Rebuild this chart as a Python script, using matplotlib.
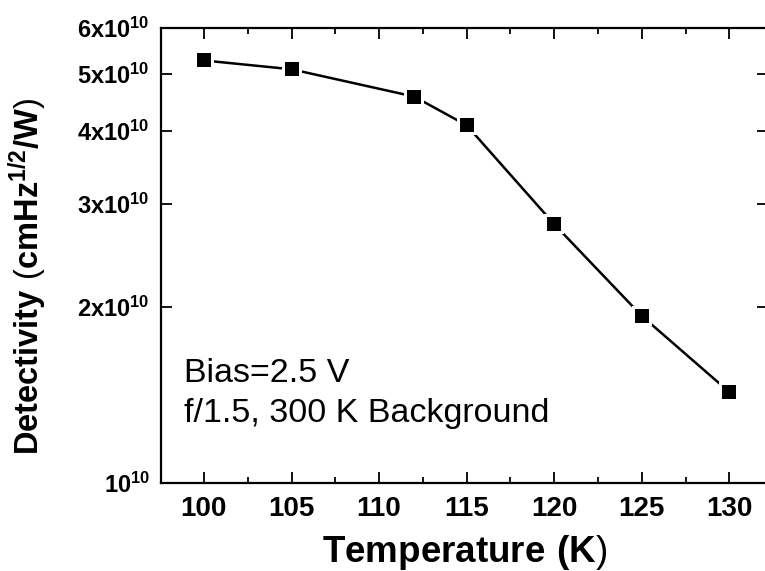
import matplotlib

matplotlib.use("Agg")

import matplotlib.pyplot as plt
from matplotlib.ticker import FixedLocator, MultipleLocator, NullLocator

plt.rcParams["font.family"] = ["Liberation Sans", "DejaVu Sans"]
plt.rcParams["mathtext.fontset"] = "custom"
plt.rcParams["mathtext.rm"] = "Liberation Sans"
plt.rcParams["mathtext.bf"] = "Liberation Sans:bold"

temperature = [100, 105, 112, 115, 120, 125, 130]
detectivity = [5.28e10, 5.10e10, 4.58e10, 4.09e10, 2.77e10, 1.93e10, 1.43e10]

y_ticks = [1e10, 2e10, 3e10, 4e10, 5e10, 6e10]
y_tick_labels = [
    r"$\mathbf{10^{10}}$",
    r"$\mathbf{2x10^{10}}$",
    r"$\mathbf{3x10^{10}}$",
    r"$\mathbf{4x10^{10}}$",
    r"$\mathbf{5x10^{10}}$",
    r"$\mathbf{6x10^{10}}$",
]
x_ticks = [100, 105, 110, 115, 120, 125, 130]

W, H = 765, 571
fig = plt.figure(figsize=(W / 100, H / 100), dpi=100)
left, right, top, bottom = 161, 768, 28, 483
ax = fig.add_axes([left / W, 1 - bottom / H, (right - left) / W, (bottom - top) / H])

# line, then white squares to leave a gap, then the black markers
ax.plot(temperature, detectivity, color="black", linewidth=1.8, zorder=2)
ax.plot(temperature, detectivity, linestyle="none", marker="s", markersize=15,
        markerfacecolor="white", markeredgewidth=0, zorder=3)
ax.plot(temperature, detectivity, linestyle="none", marker="s", markersize=10,
        markerfacecolor="black", markeredgewidth=0, zorder=4)

ax.set_yscale("log")
ax.set_ylim(1e10, 6e10)
ax.yaxis.set_major_locator(FixedLocator(y_ticks))
ax.yaxis.set_minor_locator(NullLocator())
ax.set_yticklabels(y_tick_labels, fontsize=17)

ax.set_xlim(97.55, 132.2)
ax.xaxis.set_major_locator(FixedLocator(x_ticks))
ax.xaxis.set_minor_locator(MultipleLocator(2.5))
ax.set_xticklabels([str(t) for t in x_ticks], fontsize=20, fontweight="bold")

ax.tick_params(which="both", direction="in", top=True, right=True, width=1.3)
ax.tick_params(which="major", length=8)
ax.tick_params(axis="x", which="major", pad=9)
ax.tick_params(axis="y", which="major", pad=8)
ax.tick_params(which="minor", length=4)
for spine in ax.spines.values():
    spine.set_linewidth(1.6)

fig.text(465 / W, 1 - 562 / H,
         r"$\mathbf{Temperature\ (K}\mathrm{)}$", fontsize=26.5,
         ha="center", va="baseline")
fig.text(28 / W, 1 - 276 / H,
         r"$\mathbf{Detectivity}\ \mathrm{(}\mathbf{cmHz^{1/2}/W}\mathrm{)}$",
         fontsize=23.5, rotation=90, ha="center", va="center")

ax.text((184 - left) / (right - left), 1 - (358 - top) / (bottom - top),
        "Bias=2.5 V\nf/1.5, 300 K Background", transform=ax.transAxes,
        fontsize=24.5, ha="left", va="top", linespacing=1.38)

fig.savefig("out.png", dpi=100)
